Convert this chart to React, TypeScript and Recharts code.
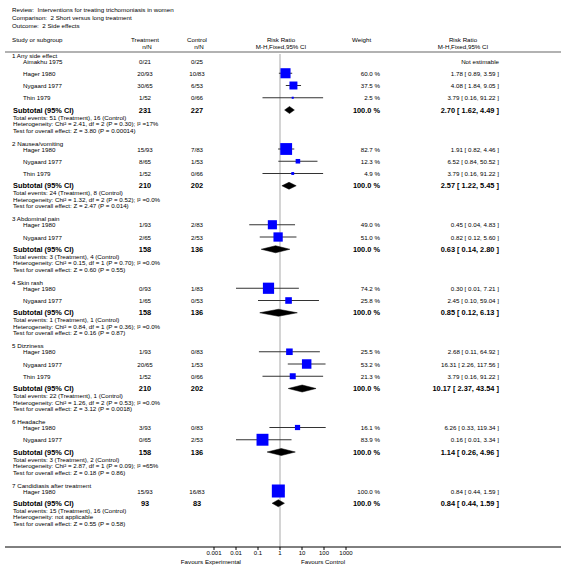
import React from "react";
import { ComposedChart, Scatter, XAxis, YAxis, ErrorBar, ReferenceLine } from "recharts";

const W = 566;
const H = 577;
const FONT = '"Liberation Sans", Arial, Helvetica, sans-serif';

// study rows: name, treatment n/N, control n/N, weight %, RR, lower, upper
type Study = [string, string, string, number | null, number | null, number | null, number | null];

const GROUP_TITLES = [
  "1 Any side effect",
  "2 Nausea/vomiting",
  "3 Abdominal pain",
  "4 Skin rash",
  "5 Dizziness",
  "6 Headache",
  "7 Candidiasis after treatment",
];

const ANY_SIDE_EFFECT: Study[] = [
  ["Aimakhu 1975", "0/21", "0/25", null, null, null, null],
  ["Hager 1980", "20/93", "10/83", 60.0, 1.78, 0.89, 3.59],
  ["Nygaard 1977", "30/65", "6/53", 37.5, 4.08, 1.84, 9.05],
  ["Thin 1979", "1/52", "0/66", 2.5, 3.79, 0.16, 91.22],
];
const NAUSEA: Study[] = [
  ["Hager 1980", "15/93", "7/83", 82.7, 1.91, 0.82, 4.46],
  ["Nygaard 1977", "8/65", "1/53", 12.3, 6.52, 0.84, 50.52],
  ["Thin 1979", "1/52", "0/66", 4.9, 3.79, 0.16, 91.22],
];
const ABDOMINAL: Study[] = [
  ["Hager 1980", "1/93", "2/83", 49.0, 0.45, 0.04, 4.83],
  ["Nygaard 1977", "2/65", "2/53", 51.0, 0.82, 0.12, 5.6],
];
const SKIN_RASH: Study[] = [
  ["Hager 1980", "0/93", "1/83", 74.2, 0.3, 0.01, 7.21],
  ["Nygaard 1977", "1/65", "0/53", 25.8, 2.45, 0.1, 59.04],
];
const DIZZINESS: Study[] = [
  ["Hager 1980", "1/93", "0/83", 25.5, 2.68, 0.11, 64.92],
  ["Nygaard 1977", "20/65", "1/53", 53.2, 16.31, 2.26, 117.56],
  ["Thin 1979", "1/52", "0/66", 21.3, 3.79, 0.16, 91.22],
];
const HEADACHE: Study[] = [
  ["Hager 1980", "3/93", "0/83", 16.1, 6.26, 0.33, 119.34],
  ["Nygaard 1977", "0/65", "2/53", 83.9, 0.16, 0.01, 3.34],
];
const CANDIDIASIS: Study[] = [
  ["Hager 1980", "15/93", "16/83", 100.0, 0.84, 0.44, 1.59],
];
const GROUP_STUDIES = [ANY_SIDE_EFFECT, NAUSEA, ABDOMINAL, SKIN_RASH, DIZZINESS, HEADACHE, CANDIDIASIS];

// subtotal: treatment N, control N, RR, lower, upper
const SUBTOTALS: [number, number, number, number, number][] = [
  [231, 227, 2.7, 1.62, 4.49],
  [210, 202, 2.57, 1.22, 5.45],
  [158, 136, 0.63, 0.14, 2.8],
  [158, 136, 0.85, 0.12, 6.13],
  [210, 202, 10.17, 2.37, 43.54],
  [158, 136, 1.14, 0.26, 4.96],
  [93, 83, 0.84, 0.44, 1.59],
];
const TOTAL_EVENTS = [
  "Total events: 51 (Treatment), 16 (Control)",
  "Total events: 24 (Treatment), 8 (Control)",
  "Total events: 3 (Treatment), 4 (Control)",
  "Total events: 1 (Treatment), 1 (Control)",
  "Total events: 22 (Treatment), 1 (Control)",
  "Total events: 3 (Treatment), 2 (Control)",
  "Total events: 15 (Treatment), 16 (Control)",
];
const HETEROGENEITY = [
  "Heterogeneity: Chi² = 2.41, df = 2 (P = 0.30); I² =17%",
  "Heterogeneity: Chi² = 1.32, df = 2 (P = 0.52); I² =0.0%",
  "Heterogeneity: Chi² = 0.15, df = 1 (P = 0.70); I² =0.0%",
  "Heterogeneity: Chi² = 0.84, df = 1 (P = 0.36); I² =0.0%",
  "Heterogeneity: Chi² = 1.26, df = 2 (P = 0.53); I² =0.0%",
  "Heterogeneity: Chi² = 2.87, df = 1 (P = 0.09); I² =65%",
  "Heterogeneity: not applicable",
];
const OVERALL_TEST = [
  "Test for overall effect: Z = 3.80 (P = 0.00014)",
  "Test for overall effect: Z = 2.47 (P = 0.014)",
  "Test for overall effect: Z = 0.60 (P = 0.55)",
  "Test for overall effect: Z = 0.16 (P = 0.87)",
  "Test for overall effect: Z = 3.12 (P = 0.0018)",
  "Test for overall effect: Z = 0.18 (P = 0.86)",
  "Test for overall effect: Z = 0.55 (P = 0.58)",
];
const X_TICKS = [0.001, 0.01, 0.1, 1, 10, 100, 1000];

// layout
const PLOT_LEFT = 5;
const PLOT_RIGHT = 561;
const AXIS_Y = 547;
const ONE_X = 280;
const DECADE = 22;
const X_MIN = Math.pow(10, (PLOT_LEFT - ONE_X) / DECADE);
const X_MAX = Math.pow(10, (PLOT_RIGHT - ONE_X) / DECADE);
const HEADER_LINE_Y = 52;
const FIRST_GROUP_Y = 55;
const TITLE_GAP = 6;
const ROW_STEP = 12.25;
const NOTE_OFFSETS = [7, 13.5, 20];
const GROUP_GAP = 33;
const DIAMOND_H = 3.5;

const COL = { label: 12, study: 23, treat: 145, ctrl: 197, weight: 380, rr: 499 };
const fmt = (v: number) => v.toFixed(2);
const ci = (rr: number, lo: number, hi: number) => `${fmt(rr)} [ ${fmt(lo)}, ${fmt(hi)} ]`;

type Row = { y: number; name: string; t: string; c: string; w: number | null; rr: number | null; lo: number | null; hi: number | null };
type Group = { title: string; titleY: number; rows: Row[]; subY: number; sub: [number, number, number, number, number]; notes: string[] };

const groups: Group[] = [];
{
  let y = FIRST_GROUP_Y;
  GROUP_TITLES.forEach((title, g) => {
    const titleY = y;
    y += TITLE_GAP;
    const rows: Row[] = GROUP_STUDIES[g].map((s) => {
      const r = { y, name: s[0], t: s[1], c: s[2], w: s[3], rr: s[4], lo: s[5], hi: s[6] };
      y += ROW_STEP;
      return r;
    });
    const subY = y;
    groups.push({ title, titleY, rows, subY, sub: SUBTOTALS[g], notes: [TOTAL_EVENTS[g], HETEROGENEITY[g], OVERALL_TEST[g]] });
    y += GROUP_GAP;
  });
}

const studyPoints = groups.flatMap((g) =>
  g.rows.filter((r) => r.rr != null).map((r) => ({
    x: r.rr as number,
    y: r.y,
    w: r.w as number,
    err: [(r.rr as number) - (r.lo as number), (r.hi as number) - (r.rr as number)],
  }))
);

const diamonds = groups.map((g) => {
  const [, , rr, lo, hi] = g.sub;
  return [
    { x: lo, y: g.subY },
    { x: rr, y: g.subY - DIAMOND_H },
    { x: hi, y: g.subY },
    { x: rr, y: g.subY + DIAMOND_H },
    { x: lo, y: g.subY },
  ];
});

const Box = (p: any) => {
  const s = Math.max(2, 13 * Math.sqrt(p.payload.w / 100));
  return <rect x={p.cx - s / 2} y={p.cy - s / 2} width={s} height={s} fill="#0000ff" />;
};
const Nothing = () => <g />;

function Txt({ x, y, a = "start", size = 6.2, bold = false, children }: any) {
  return (
    <text x={x} y={y} textAnchor={a} dominantBaseline="central" fontSize={size}
      fontWeight={bold ? "bold" : "normal"} fontFamily={FONT} fill="#000">
      {children}
    </text>
  );
}

export default function App() {
  return (
    <div style={{ position: "absolute", left: 0, top: 0, width: W, height: H, background: "#fff" }}>
      <ComposedChart width={W} height={H} margin={{ top: 0, right: W - PLOT_RIGHT, bottom: 0, left: PLOT_LEFT }}>
        <XAxis type="number" dataKey="x" scale="log" domain={[X_MIN, X_MAX]} allowDataOverflow
          ticks={X_TICKS} interval={0} height={AXIS_Y === H ? 0 : H - AXIS_Y} tickSize={3} tickMargin={1}
          stroke="#000" tick={{ fill: "#000", fontSize: 6, fontFamily: FONT }} />
        <YAxis type="number" dataKey="y" domain={[0, AXIS_Y]} reversed hide allowDataOverflow width={0} />
        <ReferenceLine segment={[{ x: 1, y: HEADER_LINE_Y + 2 }, { x: 1, y: AXIS_Y }]} stroke="#d4d4d4" strokeWidth={2} />
        <Scatter data={studyPoints} shape={Box} isAnimationActive={false} />
        <Scatter data={studyPoints} shape={Nothing} isAnimationActive={false}>
          <ErrorBar dataKey="err" direction="x" width={0} stroke="#333" strokeWidth={1} isAnimationActive={false} />
        </Scatter>
        {diamonds.map((d, i) => (
          <Scatter key={i} data={d} shape={Nothing} line={{ fill: "#000", stroke: "#000", strokeWidth: 0.5 }}
            lineType="joint" fill="#000" isAnimationActive={false} />
        ))}
      </ComposedChart>
      <svg width={W} height={H} style={{ position: "absolute", left: 0, top: 0, pointerEvents: "none" }}>
        <Txt x={COL.label} y={9}>Review:{"\u00a0 "}Interventions for treating trichomoniasis in women</Txt>
        <Txt x={COL.label} y={17}>Comparison:{"\u00a0 "}2 Short versus long treatment</Txt>
        <Txt x={COL.label} y={25}>Outcome:{"\u00a0 "}2 Side effects</Txt>

        <Txt x={COL.label} y={39}>Study or subgroup</Txt>
        <Txt x={COL.treat} y={39} a="middle">Treatment</Txt>
        <Txt x={COL.treat + 2} y={46} a="middle">n/N</Txt>
        <Txt x={COL.ctrl} y={39} a="middle">Control</Txt>
        <Txt x={COL.ctrl + 2} y={46} a="middle">n/N</Txt>
        <Txt x={ONE_X + 1} y={39} a="middle">Risk Ratio</Txt>
        <Txt x={ONE_X + 1} y={46} a="middle">M-H,Fixed,95% CI</Txt>
        <Txt x={352} y={39}>Weight</Txt>
        <Txt x={463} y={39} a="middle">Risk Ratio</Txt>
        <Txt x={463} y={46} a="middle">M-H,Fixed,95% CI</Txt>
        <line x1={PLOT_LEFT} x2={PLOT_RIGHT} y1={HEADER_LINE_Y} y2={HEADER_LINE_Y} stroke="#999" strokeWidth={1.5} />

        {groups.map((g, gi) => (
          <g key={gi}>
            <Txt x={COL.label} y={g.titleY}>{g.title}</Txt>
            {g.rows.map((r, ri) => (
              <g key={ri}>
                <Txt x={COL.study} y={r.y}>{r.name}</Txt>
                <Txt x={COL.treat} y={r.y} a="middle">{r.t}</Txt>
                <Txt x={COL.ctrl} y={r.y} a="middle">{r.c}</Txt>
                {r.w != null && <Txt x={COL.weight} y={r.y} a="end">{r.w.toFixed(1)} %</Txt>}
                <Txt x={COL.rr} y={r.y} a="end">
                  {r.rr == null ? "Not estimable" : ci(r.rr, r.lo as number, r.hi as number)}
                </Txt>
              </g>
            ))}
            <Txt x={COL.label + 1} y={g.subY} size={7.4} bold>Subtotal (95% CI)</Txt>
            <Txt x={COL.treat} y={g.subY} size={7.4} bold a="middle">{g.sub[0]}</Txt>
            <Txt x={COL.ctrl} y={g.subY} size={7.4} bold a="middle">{g.sub[1]}</Txt>
            <Txt x={COL.weight} y={g.subY} size={7.4} bold a="end">100.0 %</Txt>
            <Txt x={COL.rr} y={g.subY} size={7.4} bold a="end">{ci(g.sub[2], g.sub[3], g.sub[4])}</Txt>
            {g.notes.map((n, ni) => (
              <Txt key={ni} x={COL.label + 1} y={g.subY + NOTE_OFFSETS[ni]}>{n}</Txt>
            ))}
          </g>
        ))}

        <Txt x={241} y={561} a="end">Favours Experimental</Txt>
        <Txt x={301} y={561}>Favours Control</Txt>
      </svg>
    </div>
  );
}
